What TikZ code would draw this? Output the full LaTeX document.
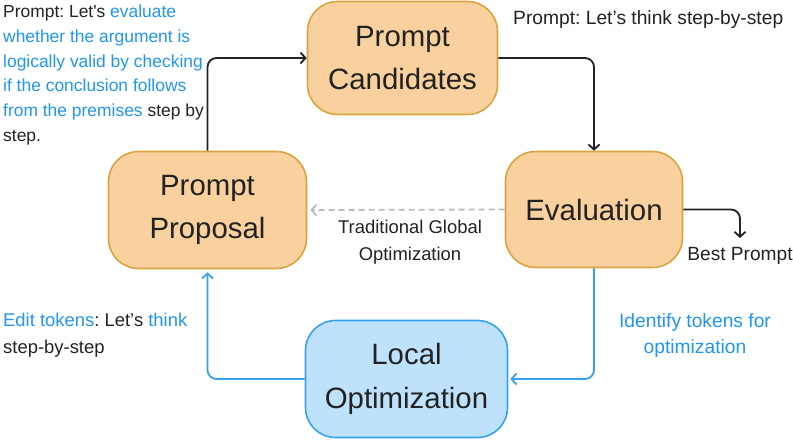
\documentclass[tikz,border=0pt]{standalone}
\usepackage{fontspec}
\setmainfont{Liberation Sans}
\newfontfamily\plainsans{Liberation Sans}[Ligatures=TeXOff]
\usetikzlibrary{arrows.meta}
\definecolor{ofill}{HTML}{F8D19E}
\definecolor{odraw}{HTML}{D9A440}
\definecolor{bfill}{HTML}{BEE2FB}
\definecolor{bdraw}{HTML}{36A2EE}
\definecolor{btext}{HTML}{2196F0}
\definecolor{tdark}{HTML}{222222}
\definecolor{dgray}{HTML}{BBBBBB}
\frenchspacing
\begin{document}
\begin{tikzpicture}[x=1bp,y=-1bp,
  box/.style={rounded corners=30bp, line width=1.6bp, inner sep=0pt, text=tdark,
    font=\fontsize{29.5}{44}\selectfont, align=center},
  obox/.style={box, fill=ofill, draw=odraw},
  bbox/.style={box, fill=bfill, draw=bdraw},
  conn/.style={line width=1.8bp, draw=tdark, rounded corners=9bp,
    -{Straight Barb[length=5bp,width=11bp,line width=1.8bp]}},
  bconn/.style={conn, draw=bdraw},
  gconn/.style={conn, draw=dgray, dash pattern=on 6bp off 4bp},
  lbl/.style={inner sep=0pt, text=tdark, font=\fontsize{18.5}{27}\selectfont, align=center},
  blbl/.style={lbl, text=btext}
]
\useasboundingbox (0,0) rectangle (793,440);

\node[obox, minimum width=190bp, minimum height=113bp] (cand) at (402.5,58) {Prompt\\Candidates};
\node[obox, minimum width=198bp, minimum height=117bp] (prop) at (207.5,210) {Prompt\\Proposal};
\node[obox, minimum width=177bp, minimum height=116bp] (eval) at (594,209.5) {Evaluation};
\node[bbox, minimum width=202bp, minimum height=117bp] (loc) at (406.5,379) {Local\\Optimization};

\coordinate (bpend) at (740,238);

\draw[conn] (prop.north) |- (cand.west);
\draw[conn] (cand.east) -| (eval.north);
\draw[gconn, shorten >=3bp] (eval.west) -- (prop.east);
\draw[conn] (eval.east) -| (bpend);
\draw[bconn, shorten >=2bp] (eval.south) |- (loc.east);
\draw[bconn, shorten >=3bp] (loc.west) -| (prop.south);

\node[lbl, anchor=west, font=\fontsize{19.3}{27}\selectfont] (toptxt) at (513,20) {Prompt: Let’s think step-by-step};
\node[lbl, font=\fontsize{19.2}{27}\selectfont] (best) at (740,256) {Best Prompt};
\node[lbl] (trad) at (410,242) {Traditional Global\\Optimization};
\node[blbl, font=\fontsize{19.3}{27}\selectfont] (ident) at (695,335.5) {Identify tokens for\\optimization};
\node[lbl, anchor=west, align=left] (edit) at (3,335.5) {\textcolor{btext}{Edit tokens}: Let’s \textcolor{btext}{think}\\step-by-step};
\node[lbl, anchor=north west, align=left, font=\fontsize{17.5}{24.8}\selectfont] (left) at (3,5)
  {Prompt: Let{\plainsans'}s \textcolor{btext}{evaluate}\\
   \textcolor{btext}{whether the argument is}\\
   \textcolor{btext}{logically valid by checking}\\
   \textcolor{btext}{if the conclusion follows}\\
   \textcolor{btext}{from the premises} step by\\
   step.};
\end{tikzpicture}
\end{document}
